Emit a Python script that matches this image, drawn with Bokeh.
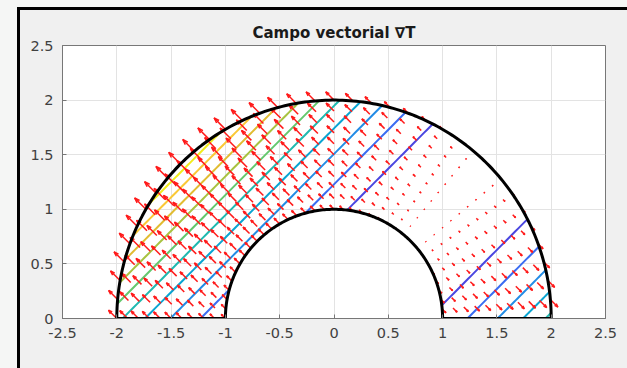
import numpy as np
from bokeh.plotting import figure
from bokeh.models import FixedTicker, Range1d
from bokeh.embed import file_html
from bokeh.resources import INLINE

# ---------------- data ----------------
title_text = "Campo vectorial \u2207T"
x_ticks = [-2.5, -2, -1.5, -1, -0.5, 0, 0.5, 1, 1.5, 2, 2.5]
y_ticks = [0, 0.5, 1, 1.5, 2, 2.5]
r_inner = 1.0
r_outer = 2.0
# polar grid of the quiver (radius, angle in degrees)
radii = [1.0, 1.1, 1.2, 1.3, 1.4, 1.5, 1.6, 1.7, 1.8, 1.9, 2.0]
angles_deg = [0, 5, 10, 15, 20, 25, 30, 35, 40, 45, 50, 55, 60, 65, 70, 75, 80, 85, 90,
              95, 100, 105, 110, 115, 120, 125, 130, 135, 140, 145, 150, 155, 160, 165,
              170, 175, 180]
# contour levels of T = (x - y)^2
levels = [0.76, 1.51, 2.27, 3.03, 3.79, 4.54, 5.30, 6.06, 6.81, 7.57]
level_colors = ["#4a46e0", "#3a6cf2", "#238ce6", "#0aa5d2", "#20b9b0",
                "#64c86e", "#a8c341", "#e1bc32", "#fac837", "#f2ec1c"]

# ---------------- style ----------------
arrow_scale = 0.019
W, H = 627, 368
FONT = "DejaVu Sans"

bg = ("linear-gradient(#000,#000) 17px 7px / 3px 361px no-repeat, "
      "linear-gradient(#000,#000) 17px 7px / 610px 3px no-repeat, "
      "linear-gradient(#f0f0f0,#f0f0f0) 20px 10px / 607px 358px no-repeat, "
      "#f5f6f5")

p = figure(width=W, height=H, output_backend="svg", toolbar_location=None,
           x_range=Range1d(-2.5, 2.5), y_range=Range1d(0, 2.5),
           min_border_left=62, min_border_right=22, min_border_top=45, min_border_bottom=50,
           background_fill_color="white", border_fill_color=None,
           styles={"background": bg})

p.title.text = title_text
p.title.align = "center"
p.title.text_font = FONT
p.title.text_font_size = "15px"
p.title.text_font_style = "bold"
p.title.text_color = "#1a1a1a"
p.title.standoff = 7

for ax in (p.xaxis[0], p.yaxis[0]):
    ax.major_label_text_font = FONT
    ax.major_label_text_font_size = "14.5px"
    ax.major_label_text_color = "#404040"
    ax.axis_line_color = "#777777"
    ax.major_tick_line_color = "#777777"
    ax.major_tick_in = 4
    ax.major_tick_out = 0
    ax.minor_tick_line_color = None
p.xaxis[0].ticker = FixedTicker(ticks=x_ticks)
p.yaxis[0].ticker = FixedTicker(ticks=y_ticks)
p.xaxis[0].major_label_overrides = {t: f"{t:g}" for t in x_ticks}
p.yaxis[0].major_label_overrides = {t: f"{t:g}" for t in y_ticks}
p.xaxis[0].major_label_standoff = 9
p.yaxis[0].major_label_standoff = 9
p.xgrid.ticker = FixedTicker(ticks=x_ticks)
p.ygrid.ticker = FixedTicker(ticks=y_ticks)
p.grid.grid_line_color = "#e3e3e3"
p.grid.grid_line_width = 1
p.outline_line_color = "#777777"
p.outline_line_width = 1

# ---------------- contour lines (x - y = c) ----------------
xs_c, ys_c, cols_c = [], [], []
for lev, col in zip(levels, level_colors):
    for sign in (-1, 1):
        c = sign * np.sqrt(lev)
        if c * c / 2 >= r_outer ** 2:
            continue
        s_out = np.sqrt(r_outer ** 2 - c * c / 2)
        s_in = np.sqrt(max(0.0, r_inner ** 2 - c * c / 2))
        s_min = c / np.sqrt(2)  # y >= 0
        intervals = [(max(s_min, s_in), s_out), (max(s_min, -s_out), -s_in)]
        for a, b in intervals:
            if b - a > 1e-6:
                s = np.linspace(a, b, 30)
                x = c / 2 + s / np.sqrt(2)
                y = -c / 2 + s / np.sqrt(2)
                xs_c.append(list(x)); ys_c.append(list(y)); cols_c.append(col)
p.multi_line(xs_c, ys_c, line_color=cols_c, line_width=2)

# ---------------- quiver of grad T ----------------
R, TH = np.meshgrid(np.array(radii), np.deg2rad(np.array(angles_deg)))
X = (R * np.cos(TH)).ravel()
Y = (R * np.sin(TH)).ravel()
U = 2 * (X - Y) * arrow_scale
V = -2 * (X - Y) * arrow_scale
alpha, beta = 0.33, 0.33
xs_a, ys_a = [], []
for x, y, u, v in zip(X, Y, U, V):
    xs_a.append([x, x + u]); ys_a.append([y, y + v])
    hx = [x + u - alpha * (u + beta * v), x + u, x + u - alpha * (u - beta * v)]
    hy = [y + v - alpha * (v - beta * u), y + v, y + v - alpha * (v + beta * u)]
    xs_a.append(hx); ys_a.append(hy)
p.multi_line(xs_a, ys_a, line_color="#ff1a1a", line_width=1.5)

# ---------------- boundary of the half annulus ----------------
th = np.linspace(0, np.pi, 200)
p.line(list(r_outer * np.cos(th)), list(r_outer * np.sin(th)), line_color="black", line_width=3)
p.line(list(r_inner * np.cos(th)), list(r_inner * np.sin(th)), line_color="black", line_width=3)
p.line([-r_outer, -r_inner], [0, 0], line_color="black", line_width=3)
p.line([r_inner, r_outer], [0, 0], line_color="black", line_width=3)

open("out.html", "w").write(file_html(p, INLINE))
